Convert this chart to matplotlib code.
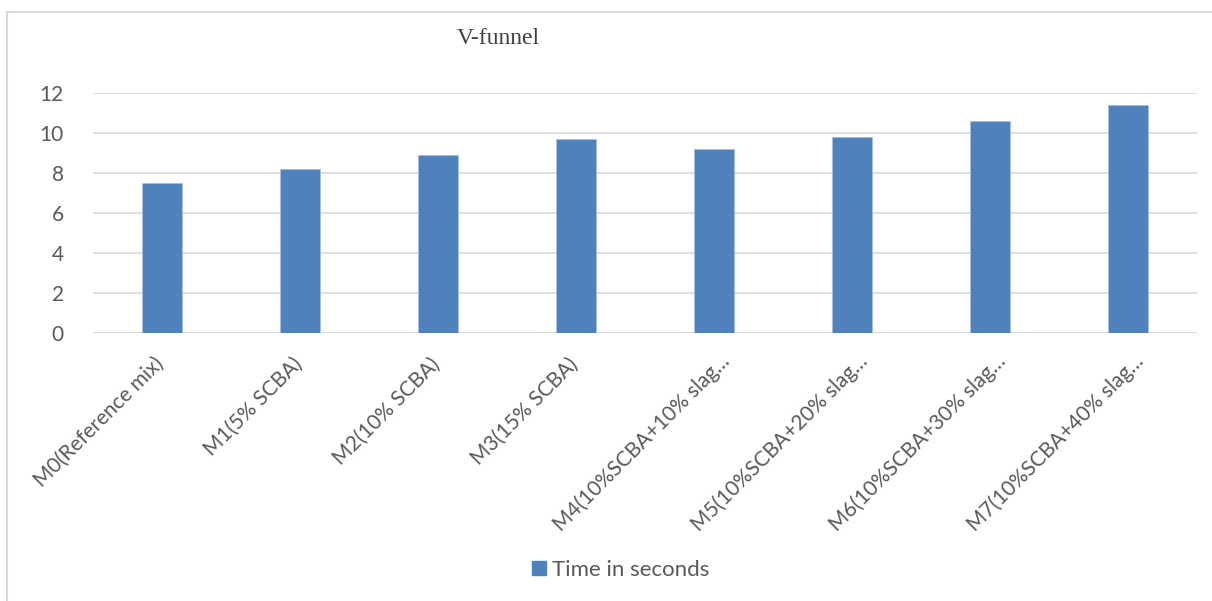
import matplotlib
matplotlib.use("Agg")
import matplotlib.pyplot as plt
import matplotlib.transforms as mtransforms
from matplotlib.patches import Rectangle, Patch

# V-funnel flow times for each mix
mixes = [
    "M0(Reference mix)",
    "M1(5% SCBA)",
    "M2(10% SCBA)",
    "M3(15% SCBA)",
    "M4(10%SCBA+10% slag…",
    "M5(10%SCBA+20% slag…",
    "M6(10%SCBA+30% slag…",
    "M7(10%SCBA+40% slag…",
]
time_s = [7.5, 8.2, 8.9, 9.7, 9.2, 9.8, 10.6, 11.4]
y_ticks = [0, 2, 4, 6, 8, 10, 12]

BAR_COLOR = "#4f81bd"
TEXT_COLOR = "#595959"
GRID_COLOR = "#d9d9d9"
SANS = ["Lato", "DejaVu Sans"]

W, H = 1212, 601
fig = plt.figure(figsize=(W / 100, H / 100), dpi=100)
ax = fig.add_axes([93 / W, (H - 333) / H, 1104 / W, 240 / H])

x = list(range(len(mixes)))
ax.bar(x, time_s, width=0.29, color=BAR_COLOR, edgecolor="#a9c1e0",
       linewidth=0.6, zorder=3)

ax.set_xlim(-0.5, len(mixes) - 0.5)
ax.set_ylim(0, 12)
ax.set_yticks(y_ticks)
ax.yaxis.grid(True, color=GRID_COLOR, linewidth=1.2, zorder=0)
ax.axhline(0, color=GRID_COLOR, linewidth=2.0, zorder=2)
for side in ax.spines.values():
    side.set_visible(False)
ax.tick_params(axis="both", length=0, colors=TEXT_COLOR)
for lbl in ax.get_yticklabels():
    lbl.set_family(SANS)
    lbl.set_fontsize(15)
ax.tick_params(axis="y", pad=21)

ax.set_xticks(x)
ax.set_xticklabels(mixes, rotation=45, ha="right", va="top",
                   rotation_mode="default", family=SANS, fontsize=15,
                   color=TEXT_COLOR)
# long (truncated) names sit a little further right than the short ones
for lbl in ax.get_xticklabels():
    dx = 20 if lbl.get_text().endswith("…") else 6
    dy = -13 if lbl.get_text().endswith("…") else -16
    shift = mtransforms.ScaledTranslation(dx / 100, dy / 100, fig.dpi_scale_trans)
    lbl.set_transform(lbl.get_transform() + shift)

fig.text(498 / W, 1 - 38 / H, "V-funnel", ha="center", va="center",
         family="Liberation Serif", fontsize=17, color="#404040")

handle = Patch(facecolor=BAR_COLOR, edgecolor=BAR_COLOR)
fig.legend([handle], ["Time in seconds"], loc="center",
           bbox_to_anchor=(621 / W, 1 - 570 / H), frameon=False,
           prop={"family": SANS, "size": 16}, labelcolor=TEXT_COLOR,
           handlelength=0.6, handleheight=0.6, handletextpad=0.3)

# chart area outline, open on the right and bottom edges
fig.patches.append(Rectangle((7 / W, -0.1), 1.2, 1 - 12 / H + 0.1,
                             transform=fig.transFigure, fill=False,
                             edgecolor="#d9d9d9", linewidth=1.5))

fig.savefig("out.png", dpi=100, facecolor="white")
